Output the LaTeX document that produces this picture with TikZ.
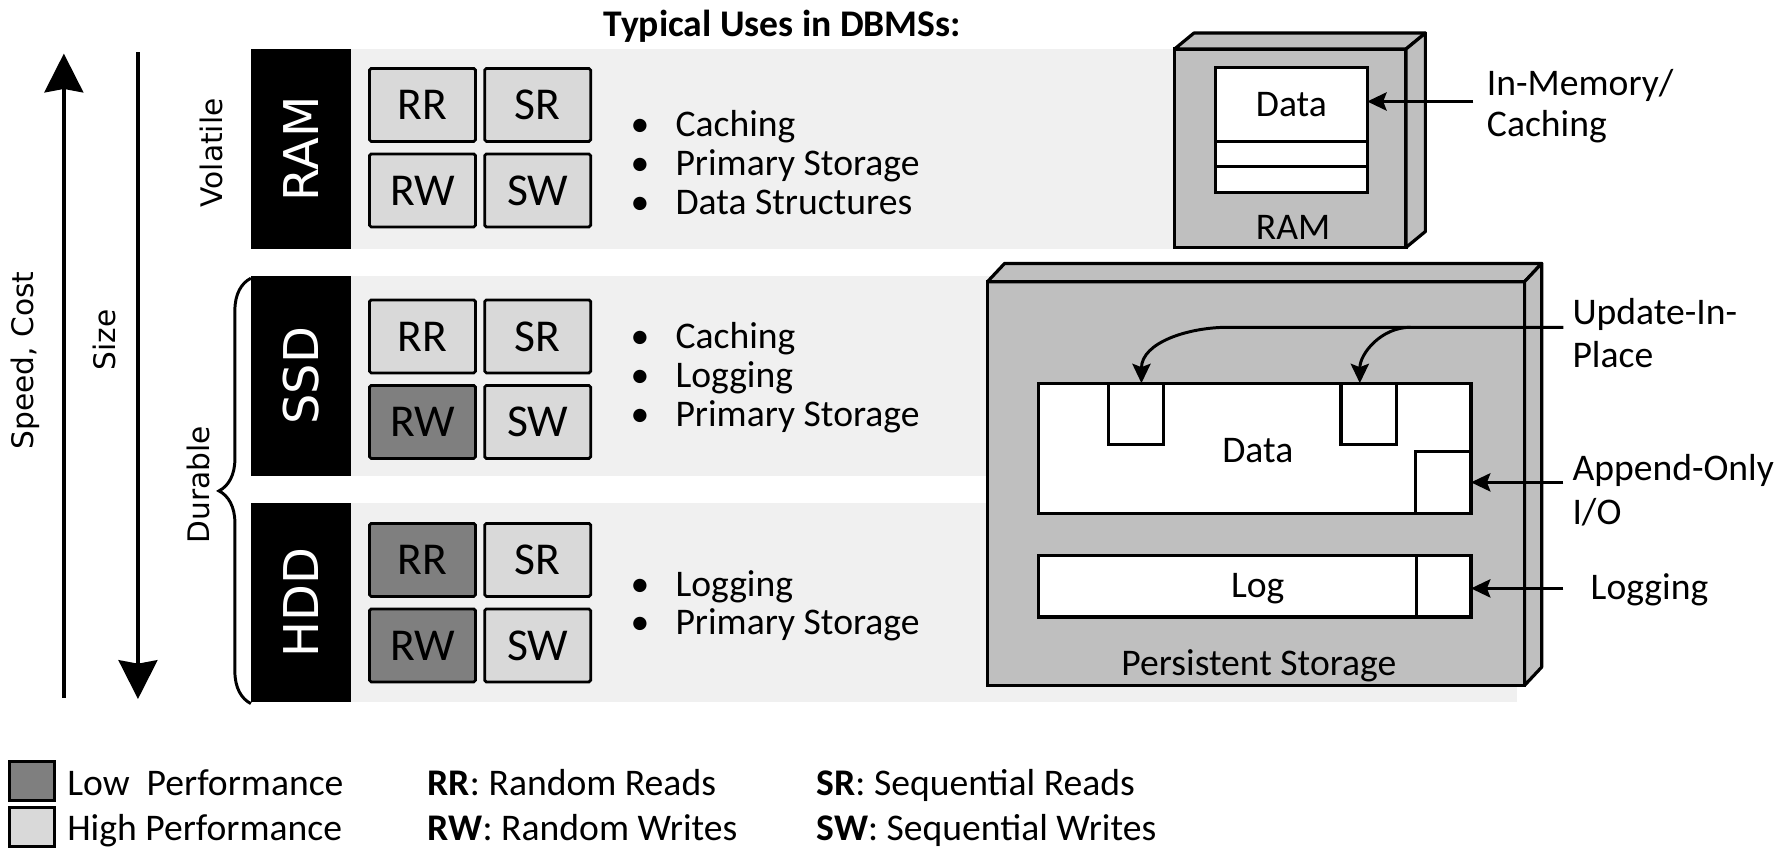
\documentclass[tikz,border=0pt]{standalone}
\usepackage{fontspec}
\setmainfont{Carlito}
\newfontfamily\widefont{DejaVu Sans}
\usetikzlibrary{arrows.meta,decorations.pathreplacing,calc}

\definecolor{bandgrey}{HTML}{F0F0F0}
\definecolor{tilehi}{HTML}{D9D9D9}
\definecolor{tilelo}{HTML}{7F7F7F}
\definecolor{boxgrey}{HTML}{BFBFBF}

\begin{document}
\begin{tikzpicture}[x=1pt,y=-1pt,
  every node/.style={inner sep=0pt,outer sep=0pt},
  bandbox/.style={fill=bandgrey,anchor=north west},
  barbox/.style={fill=black,text=white,rotate=90,minimum width=175pt,minimum height=88pt,
    font=\widefont\fontsize{42}{42}\selectfont},
  tilebox/.style={draw,line width=2.4pt,rounded corners=1.5pt,minimum width=93pt,
    minimum height=64pt,font=\fontsize{40}{40}\selectfont},
  hitile/.style={tilebox,fill=tilehi},
  lotile/.style={tilebox,fill=tilelo},
  usesbox/.style={anchor=west,font=\fontsize{33}{34}\selectfont},
  sidetext/.style={font=\widefont\fontsize{26}{26}\selectfont,rotate=90},
  frontface/.style={draw,line width=2.8pt,fill=boxgrey,anchor=north west},
  sideface/.style={draw,line width=2.8pt,fill=boxgrey,line join=round},
  cellbox/.style={draw,line width=2.8pt,fill=white,anchor=north west,
    font=\fontsize{33}{33}\selectfont},
  lbltext/.style={font=\fontsize{33}{38}\selectfont},
  legendbox/.style={draw,line width=2.6pt,anchor=north west,minimum width=40pt,minimum height=34pt},
  bigarrow/.style={line width=3.3pt,-{Stealth[length=34pt,width=34pt,inset=3pt]}},
  smallarrow/.style={line width=2.6pt,-{Stealth[length=17pt,width=16pt,inset=3pt]}},
]
\fill[white] (0,0) rectangle (1568,745);
\useasboundingbox (0,0) rectangle (1568,745);

% title
\node[anchor=base,font=\bfseries\fontsize{33}{33}\selectfont] (title) at (686,32) {Typical Uses in DBMSs:};

% axes on the left
\coordinate (speedlo) at (56,612);
\coordinate (speedhi) at (56,47);
\coordinate (sizehi) at (121,46);
\coordinate (sizelo) at (121,613);
\draw[bigarrow] (speedlo) -- (speedhi);
\draw[bigarrow] (sizehi) -- (sizelo);
\node[sidetext] (speedlbl) at (22,316) {Speed, Cost};
\node[sidetext] (sizelbl) at (92,298) {Size};
\node[sidetext] (volalbl) at (185,134) {Volatile};
\node[sidetext] (durlbl) at (174,425) {Durable};
\draw[line width=2.6pt,decorate,decoration={brace,amplitude=28pt}] (220,617) -- (220,244);

% row bands
\node[bandbox,minimum width=722pt,minimum height=175pt] (ramband) at (308,43) {};
\node[bandbox,minimum width=1022pt,minimum height=175pt] (ssdband) at (308,242) {};
\node[bandbox,minimum width=1022pt,minimum height=175pt] (hddband) at (308,441) {};

% device bars
\node[barbox] (rambar) at (264,130.5) {RAM};
\node[barbox] (ssdbar) at (264,329.5) {SSD};
\node[barbox] (hddbar) at (264,528.5) {HDD};

% access pattern tiles
\node[hitile] (ramRR) at (370.5,92) {RR};
\node[hitile] (ramSR) at (471.5,92) {SR};
\node[hitile] (ramRW) at (370.5,167) {RW};
\node[hitile] (ramSW) at (471.5,167) {SW};
\node[hitile] (ssdRR) at (370.5,295) {RR};
\node[hitile] (ssdSR) at (471.5,295) {SR};
\node[lotile] (ssdRW) at (370.5,370) {RW};
\node[hitile] (ssdSW) at (471.5,370) {SW};
\node[lotile] (hddRR) at (370.5,491) {RR};
\node[hitile] (hddSR) at (471.5,491) {SR};
\node[lotile] (hddRW) at (370.5,566) {RW};
\node[hitile] (hddSW) at (471.5,566) {SW};

% typical uses
\node[usesbox] (ramuses) at (553,147) {\begin{tabular}{@{}l@{\hspace{23pt}}l@{}}•&Caching\\•&Primary Storage\\•&Data Structures\end{tabular}};
\node[usesbox] (ssduses) at (553,333) {\begin{tabular}{@{}l@{\hspace{23pt}}l@{}}•&Caching\\•&Logging\\•&Primary Storage\end{tabular}};
\node[usesbox] (hdduses) at (553,533) {\begin{tabular}{@{}l@{\hspace{23pt}}l@{}}•&Logging\\•&Primary Storage\end{tabular}};

% RAM block
\node[frontface,minimum width=203pt,minimum height=174pt] (ramfront) at (1030,43) {};
\draw[sideface] (ramfront.north west) -- ++(17,-14) -- ($(ramfront.north east)+(17,-14)$) -- (ramfront.north east) -- cycle;
\draw[sideface] (ramfront.north east) -- ++(17,-14) -- ($(ramfront.south east)+(17,-14)$) -- (ramfront.south east) -- cycle;
\node[cellbox,minimum width=133pt,minimum height=65pt] (ramdata) at (1066,59) {Data};
\node[cellbox,minimum width=133pt,minimum height=22pt] (ramslotA) at (1066,124) {};
\node[cellbox,minimum width=133pt,minimum height=23pt] (ramslotB) at (1066,146) {};
\node[anchor=base,lbltext] (ramname) at (1134,210) {RAM};

% persistent storage block
\node[frontface,minimum width=471pt,minimum height=354pt] (pfront) at (866,247) {};
\draw[sideface] (pfront.north west) -- ++(15,-16) -- ($(pfront.north east)+(15,-16)$) -- (pfront.north east) -- cycle;
\draw[sideface] (pfront.north east) -- ++(15,-16) -- ($(pfront.south east)+(15,-16)$) -- (pfront.south east) -- cycle;
\node[cellbox,minimum width=379pt,minimum height=114pt] (pdata) at (911,336) {};
\node[lbltext] (pdatalbl) at (1103,395) {Data};
\node[cellbox,minimum width=48pt,minimum height=54pt] (sqA) at (972,336) {};
\node[cellbox,minimum width=49pt,minimum height=54pt] (sqB) at (1176,336) {};
\node[cellbox,minimum width=49pt,minimum height=54pt] (sqC) at (1241,396) {};
\node[cellbox,minimum width=379pt,minimum height=54pt] (plog) at (911,487) {};
\node[lbltext] (ploglbl) at (1103,516) {Log};
\node[cellbox,minimum width=48pt,minimum height=54pt] (logend) at (1242,487) {};
\node[anchor=base,lbltext] (pname) at (1104,592) {Persistent Storage};

% access labels and arrows
\node[anchor=west,align=left,font=\fontsize{33}{36}\selectfont] (memlbl) at (1304,93) {In-Memory/\\Caching};
\node[anchor=west,align=left,lbltext] (updlbl) at (1379,292) {Update-In-\\Place};
\node[anchor=west,align=left,lbltext] (applbl) at (1379,430) {Append-Only\\I/O};
\node[anchor=west,lbltext] (loglbl) at (1395,517) {Logging};

\coordinate (memstart) at (1292,89);
\draw[smallarrow] (memstart) -- (memstart -| ramdata.east);
\coordinate (updstart) at (1371,287);
\coordinate (updbendA) at (1077,287);
\coordinate (updbendB) at (1237,287);
\draw[smallarrow] (updstart) -- (updbendA) to[out=180,in=90] ([xshift=5pt]sqA.north);
\draw[smallarrow] (updbendB) to[out=180,in=90] ([xshift=-8pt]sqB.north);
\coordinate (appstart) at (1371,423);
\draw[smallarrow] (appstart) -- (appstart -| sqC.east);
\coordinate (logstart) at (1371,516);
\draw[smallarrow] (logstart) -- (logstart -| logend.east);

% legend
\node[legendbox,fill=tilelo] (legLo) at (8,668) {};
\node[legendbox,fill=tilehi] (legHi) at (8,708) {};
\node[anchor=base west,lbltext] (legLoTxt) at (59,698) {Low\ \ Performance};
\node[anchor=base west,lbltext] (legHiTxt) at (59,737) {High Performance};
\node[anchor=base west,lbltext] (legRR) at (375,698) {\textbf{RR}: Random Reads};
\node[anchor=base west,lbltext] (legRW) at (375,737) {\textbf{RW}: Random Writes};
\node[anchor=base west,lbltext] (legSR) at (716,698) {\textbf{SR}: Sequential Reads};
\node[anchor=base west,lbltext] (legSW) at (716,737) {\textbf{SW}: Sequential Writes};
\end{tikzpicture}
\end{document}
